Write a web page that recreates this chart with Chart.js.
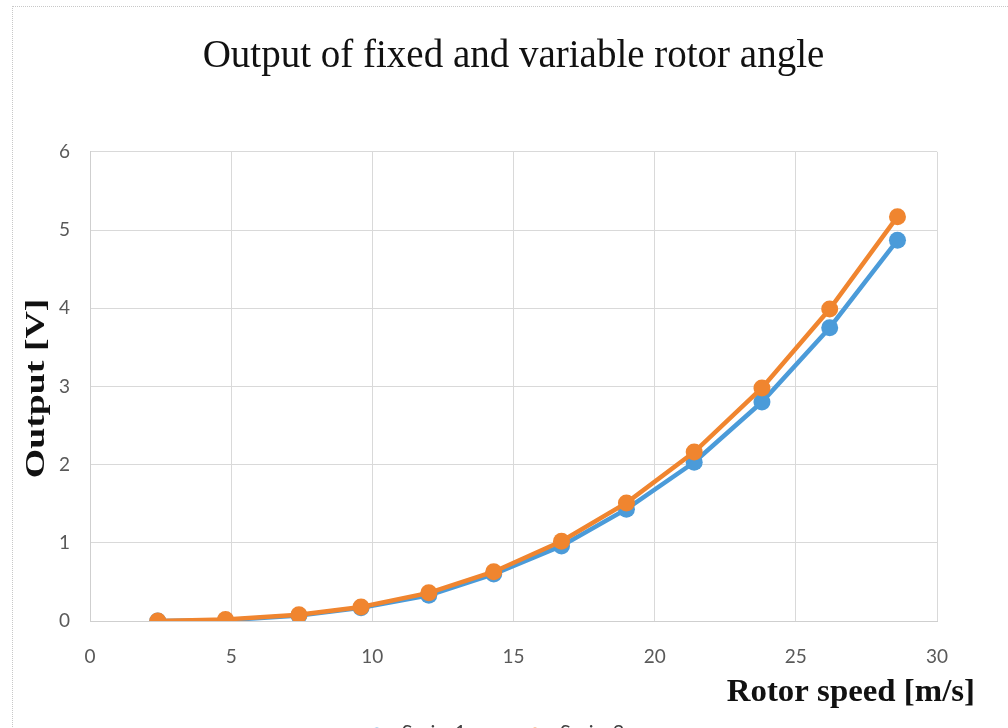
<!DOCTYPE html>
<html>
<head>
<meta charset="utf-8">
<title>Output of fixed and variable rotor angle</title>
<script src="https://cdn.jsdelivr.net/npm/chart.js@4/dist/chart.umd.min.js"></script>
<style>
  html, body { margin: 0; padding: 0; background: #ffffff; overflow: hidden; }
  #wrap { position: relative; width: 1008px; height: 753px; }
  #frame { position: absolute; left: 12px; top: 6px; right: -2px; bottom: -2px;
           border-top: 1px dotted #c8c8c8; border-left: 1px dotted #c8c8c8; pointer-events: none; }
</style>
</head>
<body>
<div id="wrap">
  <canvas id="chart" width="1008" height="753"></canvas>
  <div id="frame"></div>
</div>
<script>
// Rotor speed in m/s (shared by both series)
const rotorSpeed = [2.4, 4.8, 7.4, 9.6, 12.0, 14.3, 16.7, 19.0, 21.4, 23.8, 26.2, 28.6];
// Output voltage, fixed rotor angle
const series1 = [0.00, 0.01, 0.07, 0.17, 0.33, 0.60, 0.96, 1.43, 2.03, 2.80, 3.75, 4.87];
// Output voltage, variable rotor angle
const series2 = [0.00, 0.02, 0.08, 0.18, 0.36, 0.63, 1.02, 1.51, 2.16, 2.98, 3.99, 5.17];

const seriesNames = ['Series1', 'Series2'];
const chartTitle = 'Output of fixed and variable rotor angle';
const xTitle = 'Rotor speed [m/s]';
const yTitle = 'Output [V]';

const BLUE = '#4b9bd9';
const ORANGE = '#f0852f';
const SERIF = '"Liberation Serif", "Times New Roman", serif';
const SANS = 'Lato, "Open Sans", sans-serif';

const toPoints = (ys) => ys.map((y, i) => ({ x: rotorSpeed[i], y }));

// Legend symbol: short line segment with a round marker, like a line-with-markers key
function legendMarker(color) {
  const c = document.createElement('canvas');
  c.width = 30; c.height = 14;
  const g = c.getContext('2d');
  g.strokeStyle = color; g.lineWidth = 3;
  g.beginPath(); g.moveTo(0, 7); g.lineTo(30, 7); g.stroke();
  g.fillStyle = color;
  g.beginPath(); g.arc(15, 7, 5.5, 0, Math.PI * 2); g.fill();
  return c;
}

// Bold serif axis titles placed outside the plot box
const axisTitles = {
  id: 'axisTitles',
  afterDraw(chart) {
    const { ctx, chartArea } = chart;
    ctx.save();
    ctx.fillStyle = '#111111';
    ctx.textBaseline = 'middle';

    // x title, right-aligned past the plot edge
    ctx.save();
    ctx.font = 'bold 31px ' + SERIF;
    ctx.translate(chartArea.right + 38, chartArea.bottom + 72);
    ctx.scale(1.06, 1);
    ctx.textAlign = 'right';
    ctx.fillText(xTitle, 0, 0);
    ctx.restore();

    // y title, rotated and centred on the plot height
    ctx.save();
    ctx.font = 'bold 27px ' + SERIF;
    ctx.translate(chartArea.left - 53, (chartArea.top + chartArea.bottom) / 2 + 2);
    ctx.rotate(-Math.PI / 2);
    ctx.scale(1.4, 1);
    ctx.textAlign = 'center';
    ctx.fillText(yTitle, 0, 0);
    ctx.restore();

    ctx.restore();
  }
};

new Chart(document.getElementById('chart'), {
  type: 'line',
  data: {
    datasets: [
      {
        label: seriesNames[0],
        data: toPoints(series1),
        borderColor: BLUE,
        backgroundColor: BLUE,
        pointStyle: 'circle',
        borderWidth: 4.5,
        pointRadius: 8.5,
        pointHoverRadius: 8.5,
        pointBorderWidth: 0,
        tension: 0,
        order: 1
      },
      {
        label: seriesNames[1],
        data: toPoints(series2),
        borderColor: ORANGE,
        backgroundColor: ORANGE,
        pointStyle: 'circle',
        borderWidth: 4.5,
        pointRadius: 8.5,
        pointHoverRadius: 8.5,
        pointBorderWidth: 0,
        tension: 0,
        order: 0
      }
    ]
  },
  options: {
    responsive: false,
    animation: false,
    layout: { padding: { left: 0, right: 22, top: 0, bottom: 0 } },
    plugins: {
      title: {
        display: true,
        fullSize: false,
        text: chartTitle,
        color: '#111111',
        font: { family: SERIF, size: 39, weight: 'normal' },
        padding: { top: 33, bottom: 72 }
      },
      legend: {
        display: true,
        position: 'bottom',
        labels: {
          usePointStyle: true,
          pointStyleWidth: 30,
          padding: 54,
          color: '#404040',
          font: { family: SANS, size: 20 },
          sort: (a, b) => a.datasetIndex - b.datasetIndex,
          generateLabels(chart) {
            return chart.data.datasets.map((ds, i) => ({
              text: ds.label,
              datasetIndex: i,
              fillStyle: ds.backgroundColor,
              strokeStyle: ds.borderColor,
              fontColor: '#404040',
              lineWidth: 0,
              hidden: false,
              pointStyle: legendMarker(ds.borderColor)
            }));
          }
        }
      },
      tooltip: { enabled: false }
    },
    scales: {
      x: {
        type: 'linear',
        min: 0,
        max: 30,
        ticks: {
          stepSize: 5,
          padding: 24,
          color: '#595959',
          font: { family: SANS, size: 19 }
        },
        grid: { color: '#d9d9d9', lineWidth: 1, drawTicks: false },
        border: { display: true, color: '#cfcfcf' },
        afterFit(scale) { scale.height = 48; }
      },
      y: {
        type: 'linear',
        min: 0,
        max: 6,
        ticks: {
          stepSize: 1,
          padding: 20,
          color: '#595959',
          font: { family: SANS, size: 19 }
        },
        grid: { color: '#d9d9d9', lineWidth: 1, drawTicks: false },
        border: { display: true, color: '#cfcfcf' },
        afterFit(scale) { scale.width = 90; }
      },
      // empty right-hand axis that only reserves room for the overhanging x title
      yRight: {
        type: 'linear',
        position: 'right',
        min: 0,
        max: 6,
        ticks: { display: false },
        grid: { display: false, drawTicks: false },
        border: { display: false },
        afterFit(scale) { scale.width = 49; }
      }
    }
  },
  plugins: [axisTitles]
});
</script>
</body>
</html>
